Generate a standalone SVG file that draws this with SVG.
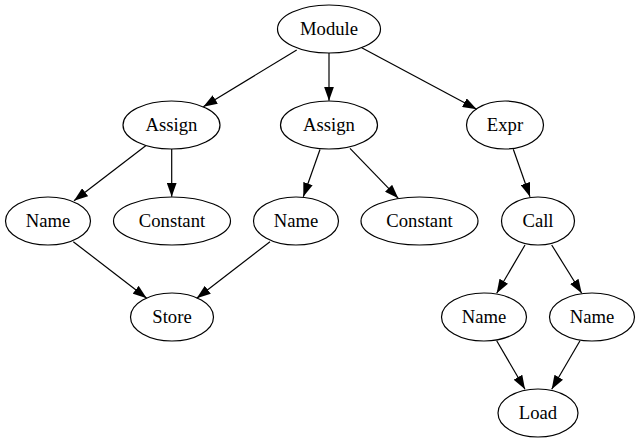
<svg xmlns="http://www.w3.org/2000/svg" width="641" height="443" viewBox="0 0 641 443">
<style>
.node ellipse{fill:none;stroke:#000;stroke-width:1.2}
text{font-family:'Liberation Serif','Times New Roman',Times,'DejaVu Serif',serif;font-size:18.67px;text-anchor:middle;fill:#000}
.edge line{stroke:#000;stroke-width:1.2;marker-end:url(#arrow)}
</style>
<defs>
<marker id="arrow" markerUnits="userSpaceOnUse" markerWidth="14" markerHeight="10" viewBox="0 0 13.3 9.4" refX="13.3" refY="4.7" orient="auto">
<path d="M0,0 L13.3,4.7 L0,9.4 z" fill="#000"/>
</marker>
</defs>
<rect width="641" height="443" fill="#fff"/>
<g id="edges" class="edge">
<line x1="296.7" y1="50" x2="203.3" y2="106.7"/>
<line x1="329" y1="53" x2="329" y2="100.8"/>
<line x1="361.7" y1="47.7" x2="476.7" y2="109.3"/>
<line x1="145.7" y1="145.7" x2="74" y2="200.7"/>
<line x1="171.7" y1="149" x2="171.7" y2="196.8"/>
<line x1="320" y1="149.5" x2="303.3" y2="196.8"/>
<line x1="350" y1="148.3" x2="398.3" y2="198.3"/>
<line x1="513.3" y1="149.3" x2="530" y2="196.8"/>
<line x1="73.3" y1="241.7" x2="146.7" y2="298.3"/>
<line x1="270" y1="241.7" x2="196.7" y2="298.3"/>
<line x1="525" y1="245" x2="496.7" y2="293.3"/>
<line x1="551.7" y1="245" x2="581.7" y2="293.3"/>
<line x1="496.7" y1="340.7" x2="525" y2="389.3"/>
<line x1="580" y1="340.7" x2="551.7" y2="389.3"/>
</g>
<g id="module" class="node"><ellipse cx="329" cy="29" rx="51.5" ry="24"/><text x="329" y="34.5" font-family="Liberation Serif, serif">Module</text></g>
<g id="assign1" class="node"><ellipse cx="171.5" cy="125" rx="48.5" ry="24"/><text x="171.5" y="130.5" font-family="Liberation Serif, serif">Assign</text></g>
<g id="assign2" class="node"><ellipse cx="329" cy="125" rx="48.5" ry="24"/><text x="329" y="130.5" font-family="Liberation Serif, serif">Assign</text></g>
<g id="expr" class="node"><ellipse cx="505" cy="125" rx="38.5" ry="24"/><text x="505" y="130.5" font-family="Liberation Serif, serif">Expr</text></g>
<g id="name1" class="node"><ellipse cx="48" cy="221" rx="42.5" ry="24"/><text x="48" y="226.5" font-family="Liberation Serif, serif">Name</text></g>
<g id="constant1" class="node"><ellipse cx="172" cy="221" rx="58.5" ry="24"/><text x="172" y="226.5" font-family="Liberation Serif, serif">Constant</text></g>
<g id="name2" class="node"><ellipse cx="296" cy="221" rx="42.5" ry="24"/><text x="296" y="226.5" font-family="Liberation Serif, serif">Name</text></g>
<g id="constant2" class="node"><ellipse cx="419.5" cy="221" rx="58.5" ry="24"/><text x="419.5" y="226.5" font-family="Liberation Serif, serif">Constant</text></g>
<g id="call" class="node"><ellipse cx="538" cy="221" rx="36.5" ry="24"/><text x="538" y="226.5" font-family="Liberation Serif, serif">Call</text></g>
<g id="store" class="node"><ellipse cx="172" cy="317" rx="41.5" ry="24"/><text x="172" y="322.5" font-family="Liberation Serif, serif">Store</text></g>
<g id="name3" class="node"><ellipse cx="484" cy="317" rx="42.5" ry="24"/><text x="484" y="322.5" font-family="Liberation Serif, serif">Name</text></g>
<g id="name4" class="node"><ellipse cx="592" cy="317" rx="42.5" ry="24"/><text x="592" y="322.5" font-family="Liberation Serif, serif">Name</text></g>
<g id="load" class="node"><ellipse cx="538" cy="413" rx="40" ry="24"/><text x="538" y="418.5" font-family="Liberation Serif, serif">Load</text></g>
</svg>
